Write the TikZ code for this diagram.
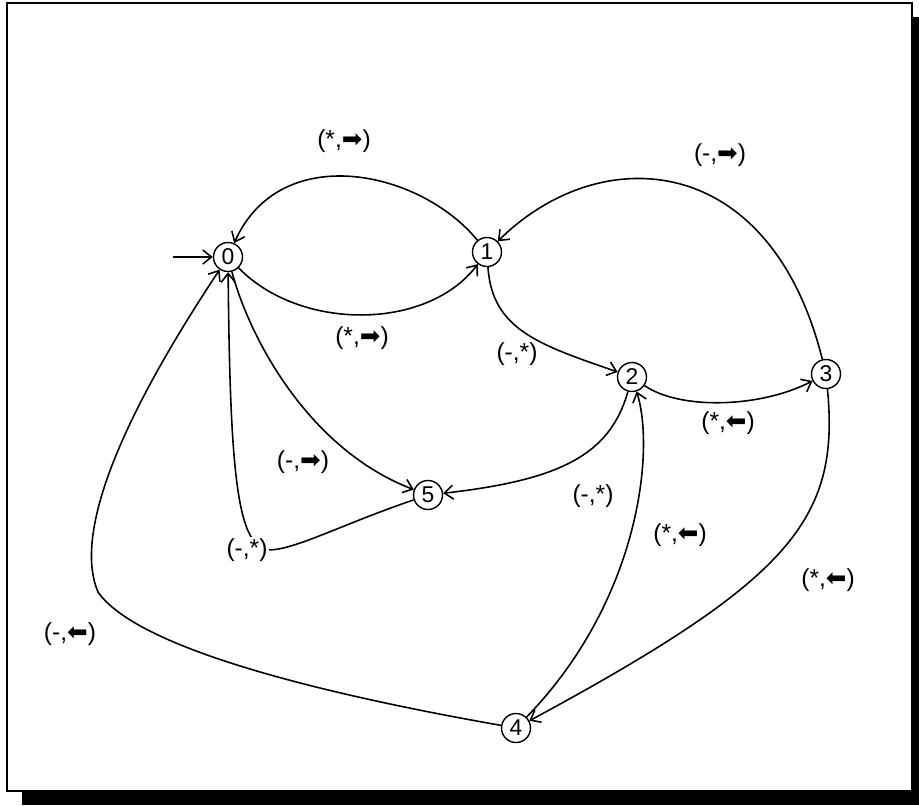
\documentclass[tikz,border=0pt]{standalone}
\usepackage{fontspec}
\setmainfont{Liberation Sans}
\newfontfamily\arrowfont{DejaVu Sans}
\usetikzlibrary{arrows.meta}
\newcommand{\rarr}{{\arrowfont ➡}}
\newcommand{\larr}{{\arrowfont ⬅}}

\begin{document}
\begin{tikzpicture}[x=0.02cm, y=-0.02cm,
    state/.style={circle, draw, line width=0.8pt, minimum size=0.58cm, inner sep=0pt, font=\fontsize{13}{13}\selectfont},
    lbl/.style={font=\fontsize{14}{16}\selectfont, inner sep=1pt},
    trans/.style={line width=0.9pt, -{Straight Barb[length=5pt,width=8pt]}}]
    \useasboundingbox (0,0) rectangle (919,805);

    % Frame with shadow
    \fill[black] (22,17) rectangle (919,805);
    \draw[fill=white, line width=1.3pt] (7,3) rectangle (912,791);

    % States
    \node[state] (s0) at (228,257) {0};
    \node[state] (s1) at (487,252) {1};
    \node[state] (s2) at (632,377) {2};
    \node[state] (s3) at (826,374) {3};
    \node[state] (s4) at (516,728) {4};
    \node[state] (s5) at (428,495) {5};
    \coordinate (init) at (173,257);
    \coordinate (bend5) at (268,550);
    \coordinate (bend4) at (98,592);

    % Transitions
    \draw[trans] (init) -- (s0);
    \draw[trans] (s1) .. controls (420,170) and (280,140) .. (s0);
    \draw[trans] (s0) .. controls (300,331) and (427,331) .. (s1);
    \draw[trans] (s3) .. controls (770,150) and (600,140) .. (s1);
    \draw[trans] (s1) .. controls (492,330) and (540,345) .. (s2);
    \draw[trans] (s2) .. controls (680,410) and (760,408) .. (s3);
    \draw[trans] (s2) .. controls (610,455) and (560,480) .. (s5);
    \draw[trans] (s0) .. controls (250,340) and (310,450) .. (s5);
    \draw[trans] (s5) .. controls (340,525) and (295,550) .. (bend5) .. controls (238,545) and (230,480) .. (s0);
    \draw[trans] (s4) .. controls (300,690) and (135,645) .. (bend4) .. controls (78,545) and (100,450) .. (s0);
    \draw[trans] (s3) .. controls (840,520) and (790,580) .. (s4);
    \draw[trans] (s4) .. controls (640,600) and (655,450) .. (s2);

    % Labels
    \node[lbl] (l10) at (344,141) {(*,\rarr)};
    \node[lbl] (l01) at (362,338) {(*,\rarr)};
    \node[lbl] (l31) at (720,155) {(-,\rarr)};
    \node[lbl] (l12) at (517,354) {(-,*)};
    \node[lbl] (l23) at (728,423) {(*,\larr)};
    \node[lbl] (l25) at (593,496) {(-,*)};
    \node[lbl] (l05) at (303,462) {(-,\rarr)};
    \node[lbl, fill=white] (l50) at (247,550) {(-,*)};
    \node[lbl] (l40) at (70,634) {(-,\larr)};
    \node[lbl] (l34) at (828,580) {(*,\larr)};
    \node[lbl] (l42) at (680,535) {(*,\larr)};
\end{tikzpicture}
\end{document}
